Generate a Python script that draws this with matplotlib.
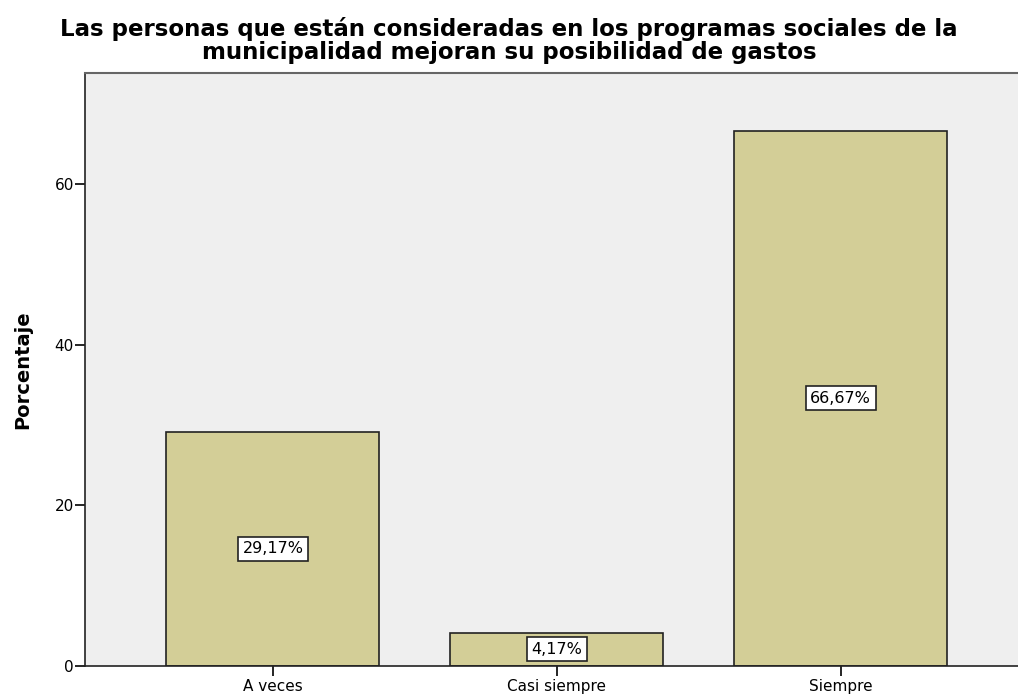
import matplotlib.pyplot as plt

categorias = ["A veces", "Casi siempre", "Siempre"]
porcentajes = [29.17, 4.17, 66.67]
etiquetas = ["29,17%", "4,17%", "66,67%"]
titulo = ("Las personas que están consideradas en los programas sociales de la\n"
          "municipalidad mejoran su posibilidad de gastos")

plt.rcParams['font.family'] = ['DejaVu Sans']

fig = plt.figure(figsize=(10.18, 6.99), dpi=100)
# the plot frame runs slightly past the right edge of the figure
ax = fig.add_axes([0.0835, 0.0472, 0.927, 0.848])
ax.set_facecolor('#efefef')

x = range(len(categorias))
ax.bar(x, porcentajes, width=0.75, color='#d3ce97', edgecolor='#222222', linewidth=1.2, zorder=2)

for xi, v, txt in zip(x, porcentajes, etiquetas):
    ax.text(xi, v / 2, txt, ha='center', va='center', fontsize=11.5, zorder=3,
            bbox=dict(boxstyle='square,pad=0.28', facecolor='white', edgecolor='#222222', linewidth=1.2))

ax.set_xlim(-0.662, 2.662)
ax.set_ylim(0, 73.8)
ax.set_xticks(list(x))
ax.set_xticklabels(categorias, fontsize=11)
ax.set_yticks([0, 20, 40, 60])
ax.tick_params(axis='y', labelsize=11, length=7, width=1.2, pad=1)
ax.tick_params(axis='x', length=7.5, width=1.2, pad=2)

for side in ['left', 'bottom']:
    ax.spines[side].set_color('#222222')
    ax.spines[side].set_linewidth(1.2)
ax.spines['top'].set_color('#666666')
ax.spines['top'].set_linewidth(1.5)
ax.spines['right'].set_visible(False)

ax.set_ylabel("Porcentaje", fontsize=14, fontweight='bold')
ax.yaxis.set_label_coords(-0.056, 0.5)
fig.text(0.5, 0.975, titulo, ha='center', va='top', fontsize=16.5, fontweight='bold',
         linespacing=0.95)

fig.savefig("out.png", dpi=100)
